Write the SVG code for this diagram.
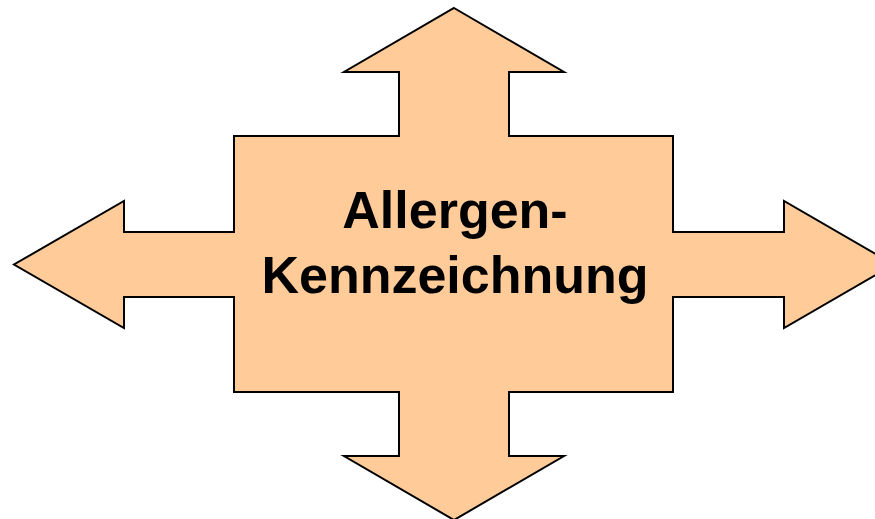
<svg xmlns="http://www.w3.org/2000/svg" width="875" height="519" viewBox="0 0 875 519">
<style>
.shape{fill:#FFCC99;stroke:#000;stroke-width:2;stroke-linejoin:miter}
.lbl{font-family:"Liberation Sans",Arial,sans-serif;font-weight:bold;font-size:52px;fill:#000;text-anchor:middle}
</style>
<rect width="875" height="519" fill="#fff"/>
<g id="quad-arrow">
<path class="shape" d="M454,8 L564,72 L509,72 L509,136 L673,136 L673,232 L784,232 L784,201 L894,264.5 L784,328 L784,297 L673,297 L673,392 L509,392 L509,456 L564,456 L454,520 L344,456 L399,456 L399,392 L234,392 L234,297 L124,297 L124,328 L14,264.5 L124,201 L124,232 L234,232 L234,136 L399,136 L399,72 L344,72 Z"/>
<text class="lbl" x="455" y="228">Allergen-</text>
<text class="lbl" x="455" y="293">Kennzeichnung</text>
</g>
</svg>
